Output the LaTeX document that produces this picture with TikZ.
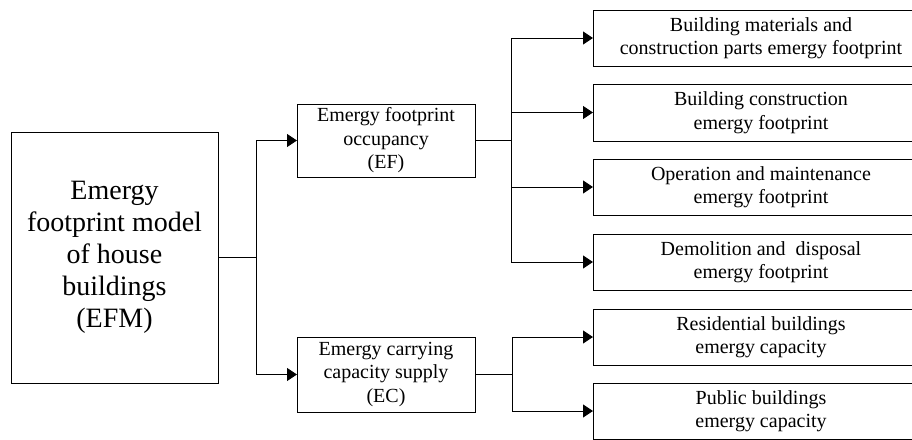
\documentclass[tikz,border=0pt]{standalone}
\usepackage{fontspec}
\setmainfont{Liberation Serif}
\usetikzlibrary{arrows.meta}
\tikzset{
  box/.style={draw, line width=1pt, inner sep=0pt, align=center,
    font=\fontsize{20}{23.5}\selectfont},
  bigbox/.style={box, font=\fontsize{28}{32}\selectfont},
  link/.style={line width=1pt},
  arr/.style={link, -{Triangle[length=10pt,width=13pt]}, shorten >=-0.5pt}
}
\begin{document}
\begin{tikzpicture}[x=1pt,y=-1pt]
\useasboundingbox (0,0) rectangle (912,439);
\clip (0,0) rectangle (912,439);
\fill[white] (0,0) rectangle (912,439);
\node[bigbox, minimum width=207pt, minimum height=251pt] (efm) at (114.5,257.5)
  {Emergy\\footprint model\\of house\\buildings\\(EFM)};
\node[box, minimum width=178pt, minimum height=73pt] (ef) at (386,140.5)
  {Emergy footprint\\occupancy\\(EF)};
\node[box, minimum width=178pt, minimum height=75pt] (ec) at (386,374.5)
  {Emergy carrying\\capacity supply\\(EC)};
\node[box, minimum width=336pt, minimum height=56pt] (r1) at (761,38)
  {Building materials and\\construction parts emergy footprint};
\node[box, minimum width=336pt, minimum height=57pt] (r2) at (761,112.5)
  {Building construction\\emergy footprint};
\node[box, minimum width=336pt, minimum height=56pt] (r3) at (761,187)
  {Operation and maintenance\\emergy footprint};
\node[box, minimum width=336pt, minimum height=56pt] (r4) at (761,262)
  {Demolition and~ disposal\\emergy footprint};
\node[box, minimum width=336pt, minimum height=56pt] (r5) at (761,337)
  {Residential buildings\\emergy capacity};
\node[box, minimum width=336pt, minimum height=56pt] (r6) at (761,411)
  {Public buildings\\emergy capacity};
\coordinate (j1) at (256,257.5);
\coordinate (j2) at (511,140.5);
\coordinate (j3) at (512,374.5);
\draw[link] (efm.east) -- (j1);
\draw[arr] (j1) |- (ef.west);
\draw[arr] (j1) |- (ec.west);
\draw[link] (ef.east) -- (j2);
\draw[arr] (j2) |- (r1.west);
\draw[arr] (j2) |- (r2.west);
\draw[arr] (j2) |- (r3.west);
\draw[arr] (j2) |- (r4.west);
\draw[link] (ec.east) -- (j3);
\draw[arr] (j3) |- (r5.west);
\draw[arr] (j3) |- (r6.west);
\end{tikzpicture}
\end{document}
